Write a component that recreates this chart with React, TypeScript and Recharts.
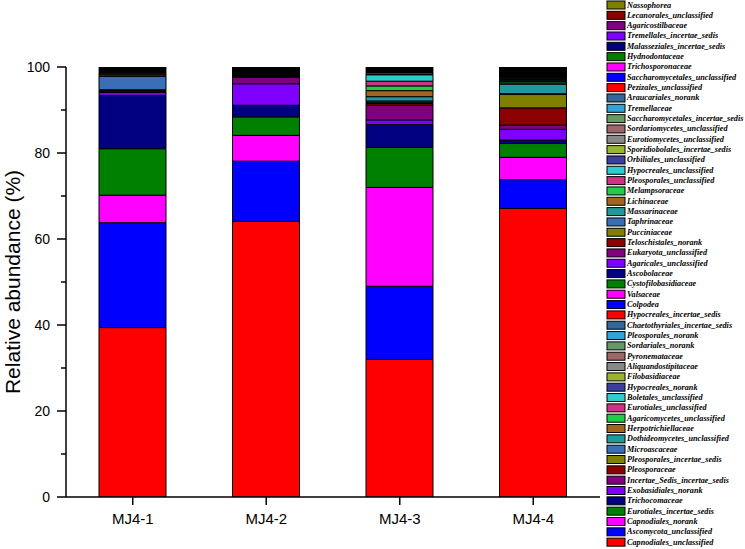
import React from 'react';
import { BarChart, Bar, XAxis, YAxis } from 'recharts';

const samples = ['MJ4-1', 'MJ4-2', 'MJ4-3', 'MJ4-4'];

// Stack order from bottom to top
const taxa = [
  'Capnodiales_unclassified', 'Ascomycota_unclassified', 'Capnodiales_norank', 'Eurotiales_incertae_sedis',
  'Trichocomaceae', 'Exobasidiales_norank', 'Incertae_Sedis_incertae_sedis', 'Pleosporaceae',
  'Pleosporales_incertae_sedis', 'Microascaceae', 'Dothideomycetes_unclassified', 'Herpotrichiellaceae',
  'Agaricomycetes_unclassified', 'Eurotiales_unclassified', 'Boletales_unclassified', 'Hypocreales_norank',
  'Filobasidiaceae', 'Aliquandostipitaceae', 'Pyronemataceae', 'Sordariales_norank',
  'Pleosporales_norank', 'Chaetothyriales_incertae_sedis', 'Hypocreales_incertae_sedis', 'Colpodea',
  'Valsaceae', 'Cystofilobasidiaceae', 'Ascobolaceae', 'Agaricales_unclassified',
  'Eukaryota_unclassified', 'Teloschistales_norank', 'Pucciniaceae', 'Taphrinaceae',
  'Massarinaceae', 'Lichinaceae', 'Melampsoraceae', 'Pleosporales_unclassified',
  'Hypocreales_unclassified', 'Orbiliales_unclassified', 'Sporidiobolales_incertae_sedis', 'Eurotiomycetes_unclassified',
  'Sordariomycetes_unclassified', 'Saccharomycetales_incertae_sedis', 'Tremellaceae', 'Araucariales_norank',
  'Pezizales_unclassified', 'Saccharomycetales_unclassified', 'Trichosporonaceae', 'Hydnodontaceae',
  'Malasseziales_incertae_sedis', 'Tremellales_incertae_sedis', 'Agaricostilbaceae', 'Lecanorales_unclassified',
  'Nassophorea',
];

const palette = [
  '#FF0000', '#0000FF', '#FF00FF', '#008000', '#000080', '#8000FF', '#800080', '#8B0000',
  '#808000', '#3A6EB5', '#1F9A9A', '#A0661E', '#22CC44', '#CC3385', '#2ECBD0', '#3D3D9E',
  '#99B333', '#888888', '#9E6666', '#669966', '#33A3D6', '#336699',
];

const MJ4_1 = [
  39.4, 24.4, 6.4, 10.8, 12.4, 0.7, 0.3, 0.2, 0.1, 3.1, 0.15, 0.4, 0.1, 0.3, 0.1,
  0.05, 0.04, 0.03, 0.06, 0.02, 0.04, 0.05, 0.03, 0.02, 0.04, 0.03, 0.02, 0.05, 0.03, 0.02,
  0.04, 0.03, 0.02, 0.03, 0.02, 0.04, 0.03, 0.02, 0.03, 0.02, 0.03, 0.02, 0.03, 0.02, 0.04,
  0.02, 0.03, 0.02, 0.03, 0.02, 0.03, 0.02, 0.03,
];
const MJ4_2 = [
  64.1, 14.0, 6.0, 4.3, 2.7, 5.0, 1.5,
  0.12, 0.05, 0.08, 0.06, 0.04, 0.05, 0.07, 0.04, 0.08, 0.05, 0.08, 0.04, 0.06, 0.05, 0.04,
  0.06, 0.05, 0.04, 0.05, 0.06, 0.04, 0.05, 0.04, 0.06, 0.05, 0.04, 0.05, 0.04, 0.05, 0.04,
  0.06, 0.05, 0.04, 0.05, 0.04, 0.05, 0.04, 0.06, 0.05, 0.04, 0.05, 0.04, 0.06, 0.05, 0.04, 0.05,
];
const MJ4_3 = [
  32.0, 17.0, 23.0, 9.3, 5.3, 1.1, 3.4, 0.4, 0.3, 0.3, 1.0, 1.4, 1.1, 1.1, 1.5, 0.2, 0.3,
  0.04, 0.03, 0.05, 0.04, 0.03, 0.04, 0.03, 0.05, 0.04, 0.03, 0.04, 0.03, 0.04, 0.03, 0.04,
  0.03, 0.04, 0.03, 0.04, 0.03, 0.04, 0.03, 0.04, 0.03, 0.04, 0.03, 0.04, 0.03, 0.04, 0.03,
  0.04, 0.03, 0.04, 0.03, 0.04, 0.04,
];
const MJ4_4 = [
  67.1, 6.7, 5.2, 3.2, 0.8, 2.5, 1.0, 4.0, 3.1, 0.2, 2.2, 0.3, 0.3, 0.2, 0.2, 0.1, 0.3,
  0.08, 0.06, 0.09, 0.07, 0.05, 0.08, 0.07, 0.06, 0.09, 0.07, 0.08, 0.06, 0.07, 0.08, 0.06,
  0.07, 0.08, 0.07, 0.06, 0.08, 0.07, 0.06, 0.08, 0.07, 0.08, 0.06, 0.07, 0.08, 0.07, 0.06,
  0.08, 0.07, 0.08, 0.07, 0.09, 0.08,
];

const sampleValues = [MJ4_1, MJ4_2, MJ4_3, MJ4_4];
const yTicks = [0, 10, 20, 30, 40, 50, 60, 70, 80, 90, 100];
const yTitle = 'Relative abundance (%)';

const data = samples.map((s, i) => {
  const row: Record<string, any> = { sample: s };
  taxa.forEach((t, j) => {
    row[t] = sampleValues[i][j];
  });
  return row;
});

const colorOf = (j: number) => palette[j % palette.length];

const YTick = (props: any) => {
  const { x, y, payload } = props;
  const major = payload.value % 20 === 0;
  return (
    <g>
      <line x1={x - (major ? 9 : 5)} x2={x} y1={y} y2={y} stroke="#000" strokeWidth={1.5} />
      {major && (
        <text
          x={x - 16}
          y={y}
          textAnchor="end"
          dominantBaseline="central"
          fontSize={14}
          fontFamily="'Liberation Sans', Arial, sans-serif"
          fill="#000"
        >
          {payload.value}
        </text>
      )}
    </g>
  );
};

const YTitle = (props: any) => {
  const vb = props.viewBox;
  const cx = vb.x + 12;
  const cy = vb.y + vb.height / 2;
  return (
    <text
      x={cx}
      y={cy}
      transform={`rotate(-90, ${cx}, ${cy})`}
      textAnchor="middle"
      dominantBaseline="central"
      fontSize={21}
      fontFamily="'Liberation Sans', Arial, sans-serif"
      fill="#000"
    >
      {yTitle}
    </text>
  );
};

const LegendOverlay = () => {
  const rows = taxa.map((t, j) => ({ name: t, color: colorOf(j) })).reverse();
  return (
    <svg
      width={745}
      height={549}
      style={{ position: 'absolute', left: 0, top: 0, pointerEvents: 'none' }}
    >
      {rows.map((r, k) => {
        const cy = 5 + k * 10.33;
        return (
          <g key={r.name}>
            <rect x={607} y={cy - 4} width={18} height={8} fill={r.color} stroke="#000" strokeWidth={1} />
            <text
              x={627}
              y={cy}
              dominantBaseline="central"
              fontSize={8.2}
              fontStyle="italic"
              fontWeight="bold"
              fontFamily="'Liberation Serif', 'Times New Roman', serif"
              fill="#000"
            >
              {r.name}
            </text>
          </g>
        );
      })}
    </svg>
  );
};

export default function App() {
  return (
    <div style={{ position: 'absolute', left: 0, top: 0, width: 745, height: 549, background: '#fff' }}>
      <BarChart
        width={745}
        height={549}
        data={data}
        margin={{ top: 67, right: 145, bottom: 0, left: 0 }}
        barSize={67}
      >
        <XAxis
          dataKey="sample"
          height={52}
          axisLine={{ stroke: '#000', strokeWidth: 1.5 }}
          tickLine={{ stroke: '#000', strokeWidth: 1.5 }}
          tickSize={8}
          tickMargin={8}
          tick={{ fill: '#000', fontSize: 15, fontFamily: "'Liberation Sans', Arial, sans-serif" }}
        />
        <YAxis
          width={66}
          domain={[0, 100]}
          ticks={yTicks}
          interval={0}
          allowDataOverflow
          axisLine={{ stroke: '#000', strokeWidth: 1.5 }}
          tickLine={false}
          tickSize={0}
          tickMargin={0}
          tick={<YTick />}
          label={<YTitle />}
        />
        {taxa.map((t, j) => (
          <Bar
            key={t}
            dataKey={t}
            stackId="a"
            fill={colorOf(j)}
            stroke="#000"
            strokeWidth={1}
            isAnimationActive={false}
          />
        ))}
      </BarChart>
      <LegendOverlay />
    </div>
  );
}
